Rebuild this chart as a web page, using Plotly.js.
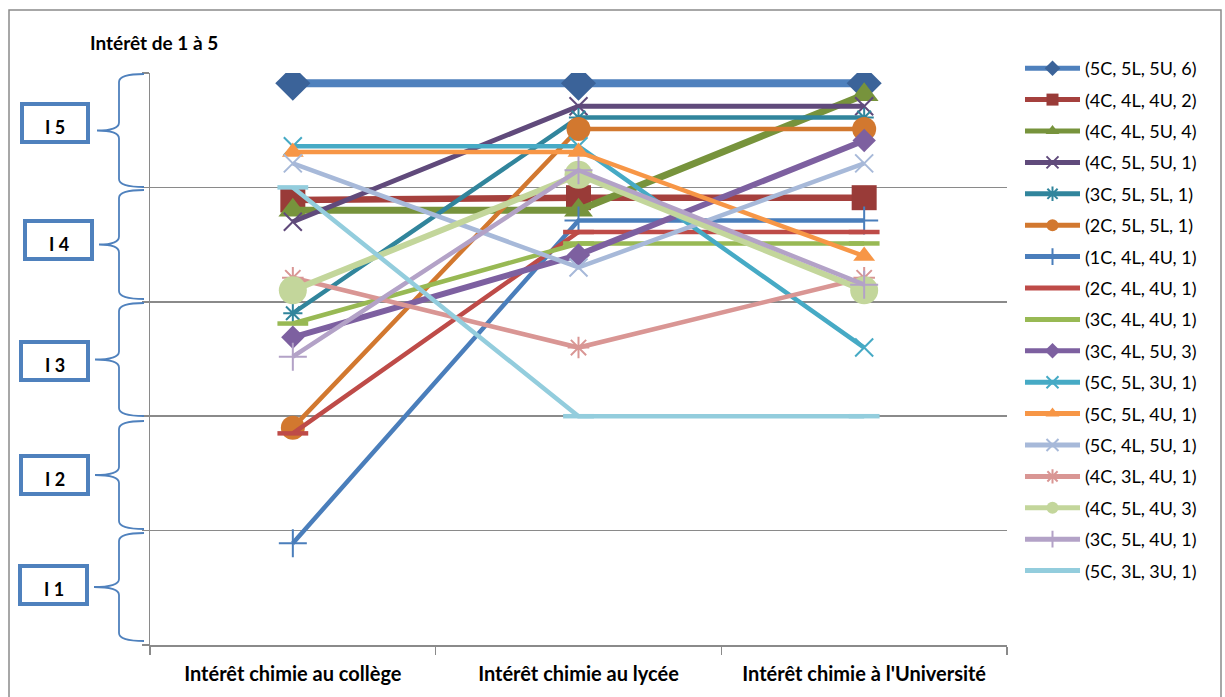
<!DOCTYPE html>
<html>
<head>
<meta charset="utf-8">
<script src="https://cdn.plot.ly/plotly-3.0.1.min.js"></script>
<style>html,body{margin:0;padding:0;background:#fff;}#chart{width:1225px;height:697px;}</style>
</head>
<body>
<div id="chart"></div>
<script>
// ---- data ----
const categories = ["Intérêt chimie au collège", "Intérêt chimie au lycée", "Intérêt chimie à l'Université"];
const seriesNames = [
  "(5C, 5L, 5U, 6)", "(4C, 4L, 4U, 2)", "(4C, 4L, 5U, 4)", "(4C, 5L, 5U, 1)",
  "(3C, 5L, 5L, 1)", "(2C, 5L, 5L, 1)", "(1C, 4L, 4U, 1)", "(2C, 4L, 4U, 1)",
  "(3C, 4L, 4U, 1)", "(3C, 4L, 5U, 3)", "(5C, 5L, 3U, 1)", "(5C, 5L, 4U, 1)",
  "(5C, 4L, 5U, 1)", "(4C, 3L, 4U, 1)", "(4C, 5L, 4U, 3)", "(3C, 5L, 4U, 1)",
  "(5C, 3L, 3U, 1)"
];
const s01 = [4.91, 4.91, 4.91];
const s02 = [3.89, 3.91, 3.91];
const s03 = [3.80, 3.80, 4.81];
const s04 = [3.70, 4.71, 4.71];
const s05 = [2.90, 4.61, 4.61];
const s06 = [1.90, 4.51, 4.51];
const s07 = [0.89, 3.71, 3.71];
const s08 = [1.85, 3.61, 3.61];
const s09 = [2.81, 3.51, 3.51];
const s10 = [2.69, 3.41, 4.41];
const s11 = [4.36, 4.36, 2.60];
const s12 = [4.31, 4.31, 3.40];
const s13 = [4.21, 3.30, 4.21];
const s14 = [3.21, 2.60, 3.21];
const s15 = [3.10, 4.11, 3.10];
const s16 = [2.52, 4.15, 3.15];
const s17 = [4.00, 2.00, 2.00];
const seriesValues = [s01,s02,s03,s04,s05,s06,s07,s08,s09,s10,s11,s12,s13,s14,s15,s16,s17];
const levelLabels = ["I 5", "I 4", "I 3", "I 2", "I 1"];
const yTitle = "Intérêt de 1 à 5";

// ---- styles ----
const FONT = "Lato, 'Open Sans', sans-serif";
const styles = [
  {c:"#4F81BD", m:"#3B6399", sym:"diamond", sz:27, w:8},
  {c:"#A5403D", m:"#993B38", sym:"square", sz:25, w:6.5},
  {c:"#77933C", m:"#77933C", sym:"triangle-up", sz:25, w:7},
  {c:"#604A7B", m:"#604A7B", sym:"x-thin-open", sz:18, w:5},
  {c:"#31859C", m:"#31859C", sym:"asterisk-open", sz:16, w:4.5},
  {c:"#D2782F", m:"#D2782F", sym:"circle", sz:24, w:4.5},
  {c:"#4A7EBB", m:"#4A7EBB", sym:"cross-thin-open", sz:20, w:4.5},
  {c:"#BE4B48", m:"#BE4B48", sym:"line-ew-open", sz:22, w:4.5},
  {c:"#98B954", m:"#98B954", sym:"line-ew-open", sz:22, w:4.5},
  {c:"#7D60A0", m:"#7D60A0", sym:"diamond", sz:18, w:6},
  {c:"#46AAC5", m:"#46AAC5", sym:"x-thin-open", sz:18, w:4.5},
  {c:"#F79646", m:"#F79646", sym:"triangle-up", sz:19, w:4.5},
  {c:"#A7B9D9", m:"#A7B9D9", sym:"x-thin-open", sz:18, w:4.5},
  {c:"#D99694", m:"#D99694", sym:"asterisk-open", sz:18, w:4.5},
  {c:"#C3D69B", m:"#C3D69B", sym:"circle", sz:28, w:6},
  {c:"#B3A2C7", m:"#B3A2C7", sym:"cross-thin-open", sz:20, w:4.5},
  {c:"#93CDDD", m:"#93CDDD", sym:"line-ew-open", sz:22, w:4.5}
];

const traces = seriesNames.map((n, i) => {
  const st = styles[i];
  const open = st.sym.indexOf("open") >= 0;
  return {
    type: "scatter", mode: "lines+markers", name: n,
    x: categories, y: seriesValues[i],
    legendgroup: "g" + i,
    line: {color: st.c, width: st.w},
    marker: open
      ? {symbol: st.sym, size: st.sz, color: st.m, line: {color: st.m, width: 2}}
      : {symbol: st.sym, size: st.sz, color: st.m, line: {width: 0}},
    hoverinfo: "skip"
  };
});
[7, 8, 16].forEach(i => { traces[i].marker.line.width = styles[i].w; });

// ---- geometry helpers (pixel -> paper) ----
const L = 150, R = 1007, T = 73, B = 645;
const X = px => (px - L) / (R - L);
const Y = py => (B - py) / (B - T);

const shapes = [];
const annotations = [];
shapes.push({type: "rect", xref: "paper", yref: "paper", x0: X(9), x1: X(1221), y0: Y(705), y1: Y(10),
  line: {color: "#8A8A8A", width: 1.5}, fillcolor: "rgba(0,0,0,0)", layer: "below"});

const braceY = [[74, 187], [190, 299], [303, 416], [421, 529], [533, 641]];
const boxes = [[22, 104, 88, 142], [25, 221, 92, 259], [21, 342, 88, 380], [21, 456, 88, 494], [20, 566, 87, 604]];
const tipX = [97, 99, 95, 95, 94];
braceY.forEach((b, i) => {
  const yt = b[0], yb = b[1], ym = (yt + yb) / 2;
  const xr = 144, xv = 119, xt = tipX[i];
  const P = (x, y) => X(x) + "," + Y(y);
  const path = "M" + P(xr, yt) + " Q" + P(xv, yt) + " " + P(xv, yt + 8) +
    " L" + P(xv, ym - 8) + " Q" + P(xv, ym) + " " + P(xt, ym) +
    " Q" + P(xv, ym) + " " + P(xv, ym + 8) +
    " L" + P(xv, yb - 8) + " Q" + P(xv, yb) + " " + P(xr, yb);
  shapes.push({type: "path", xref: "paper", yref: "paper", path: path,
    line: {color: "#4F81BD", width: 1.8}});
  const bx = boxes[i];
  shapes.push({type: "rect", xref: "paper", yref: "paper", x0: X(bx[0]), x1: X(bx[2]), y0: Y(bx[3]), y1: Y(bx[1]),
    line: {color: "#4F81BD", width: 4}, fillcolor: "#FFFFFF"});
  annotations.push({xref: "paper", yref: "paper", x: X((bx[0] + bx[2]) / 2), y: Y((bx[1] + bx[3]) / 2 + 4),
    text: "<b>" + levelLabels[i] + "</b>", showarrow: false, xanchor: "center", yanchor: "middle",
    font: {family: FONT, size: 18, color: "#000"}});
});
annotations.push({xref: "paper", yref: "paper", x: X(88), y: Y(43), xanchor: "left", yanchor: "middle",
  text: "<b>" + yTitle + "</b>", showarrow: false,
  font: {family: FONT, size: 19, color: "#000"}});

const layout = {
  width: 1225, height: 697,
  margin: {l: L, r: 1225 - R, t: T, b: 697 - B, pad: 0},
  paper_bgcolor: "#FFFFFF", plot_bgcolor: "#FFFFFF",
  font: {family: FONT, color: "#000"},
  showlegend: true,
  legend: {x: X(1020), y: Y(50), xanchor: "left", yanchor: "top",
    font: {family: FONT, size: 18, color: "#000"}, tracegroupgap: 5, itemsizing: "constant",
    bgcolor: "rgba(0,0,0,0)", itemwidth: 55, maxheight: 1},
  xaxis: {type: "category", range: [-0.5, 2.5], showgrid: false, zeroline: false,
    showline: true, linecolor: "#8A8A8A", linewidth: 1.5,
    ticks: "outside", tickson: "boundaries", ticklen: 8, tickcolor: "#8A8A8A", tickwidth: 1.5,
    ticklabelstandoff: 10,
    tickfont: {size: 20, color: "#000", family: FONT, weight: "bold"},
    fixedrange: true},
  yaxis: {range: [0, 5], tickvals: [0, 1, 2, 3, 4, 5], showticklabels: false,
    showgrid: true, gridcolor: "#8A8A8A", gridwidth: 1.5, zeroline: false,
    showline: true, linecolor: "#8A8A8A", linewidth: 1.5,
    ticks: "outside", ticklen: 7, tickcolor: "#8A8A8A", tickwidth: 1.5, fixedrange: true},
  shapes: shapes,
  annotations: annotations,
  hovermode: false
};

Plotly.newPlot("chart", traces, layout, {staticPlot: true, displayModeBar: false});
</script>
</body>
</html>
